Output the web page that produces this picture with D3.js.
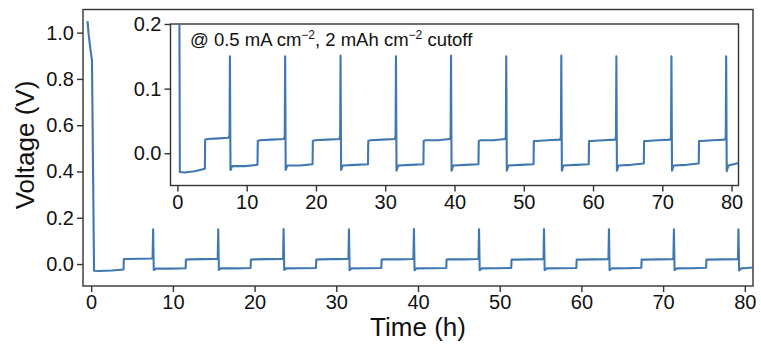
<!DOCTYPE html>
<html lang="en">
<head>
  <meta charset="UTF-8">
  <title>Voltage vs time</title>
  <script src="https://d3js.org/d3.v7.min.js"></script>
  <style>
    body { margin: 0; background: #fff; font-family: Arial, "Liberation Sans", sans-serif; }
    .axis text { font-size: 20px; fill: #111; }
    .axis path, .axis line { stroke: #333; stroke-width: 1.4; }
  </style>
</head>
<body>
<div id="chart"></div>
<script>
  // time (h) and voltage (V)
  const timeH = [
    -0.45, -0.3, -0.1, 0.1, 0.35, 1.0, 2.5, 3.96,
    4.0, 4.3, 6.0, 7.4, 7.52, 7.58, 7.66, 7.9, 9.8, 11.56,
    11.6, 11.9, 13.6, 15.37, 15.49, 15.55, 15.63, 15.87, 17.7, 19.51,
    19.55, 19.85, 21.6, 23.37, 23.49, 23.55, 23.63, 23.87, 25.7, 27.51,
    27.55, 27.85, 29.6, 31.37, 31.49, 31.55, 31.63, 31.87, 33.7, 35.51,
    35.55, 35.85, 37.6, 39.32, 39.44, 39.5, 39.58, 39.82, 41.6, 43.46,
    43.5, 43.8, 45.6, 47.29, 47.41, 47.47, 47.55, 47.79, 49.6, 51.41,
    51.45, 51.75, 53.5, 55.24, 55.36, 55.42, 55.5, 55.74, 57.6, 59.38,
    59.42, 59.72, 61.5, 63.19, 63.31, 63.37, 63.45, 63.69, 65.5, 67.33,
    67.37, 67.67, 69.4, 71.14, 71.26, 71.32, 71.4, 71.64, 73.5, 75.26,
    75.3, 75.6, 77.3, 79.04, 79.16, 79.22, 79.3, 79.54, 80.3, 81.0
  ];
  const voltage = [
    1.05, 0.99, 0.93, 0.88, -0.029, -0.030, -0.028, -0.024,
    0.021, 0.022, 0.023, 0.024, 0.028, 0.150, -0.026, -0.020, -0.020, -0.018,
    0.019, 0.020, 0.021, 0.022, 0.026, 0.150, -0.026, -0.019, -0.019, -0.017,
    0.019, 0.020, 0.021, 0.022, 0.026, 0.151, -0.026, -0.019, -0.018, -0.017,
    0.019, 0.020, 0.021, 0.022, 0.026, 0.150, -0.027, -0.019, -0.018, -0.017,
    0.019, 0.020, 0.020, 0.022, 0.025, 0.151, -0.027, -0.019, -0.018, -0.017,
    0.019, 0.020, 0.020, 0.022, 0.025, 0.150, -0.027, -0.019, -0.018, -0.017,
    0.019, 0.019, 0.020, 0.021, 0.025, 0.151, -0.027, -0.019, -0.018, -0.017,
    0.019, 0.019, 0.020, 0.021, 0.025, 0.150, -0.027, -0.019, -0.018, -0.016,
    0.019, 0.019, 0.020, 0.021, 0.025, 0.150, -0.027, -0.019, -0.018, -0.016,
    0.019, 0.019, 0.020, 0.021, 0.025, 0.150, -0.028, -0.019, -0.017, -0.015
  ];
  const mainXTicks = [0, 10, 20, 30, 40, 50, 60, 70, 80];
  const mainYTicks = [0.0, 0.2, 0.4, 0.6, 0.8, 1.0];
  const insetXTicks = [0, 10, 20, 30, 40, 50, 60, 70, 80];
  const insetYTicks = [0.0, 0.1, 0.2];

  const data = timeH.map((t, i) => ({ t: t, v: voltage[i] }));
  const lineColor = "#3f78b2";

  const svg = d3.select("#chart").append("svg")
    .attr("width", 761)
    .attr("height", 346);

  // main axes
  const x = d3.scaleLinear().domain([-1, 81]).range([83, 753]);
  const y = d3.scaleLinear().domain([-0.095, 1.1]).range([286, 9.5]);

  svg.append("rect")
    .attr("x", 83).attr("y", 9.5)
    .attr("width", 670).attr("height", 276.5)
    .attr("fill", "none").attr("stroke", "#333").attr("stroke-width", 1.4);

  svg.append("g").attr("class", "axis")
    .attr("transform", "translate(0,286)")
    .call(d3.axisBottom(x).tickValues(mainXTicks).tickSize(6).tickPadding(3).tickFormat(d3.format("d")))
    .call(g => g.select(".domain").remove());

  svg.append("g").attr("class", "axis")
    .attr("transform", "translate(83,0)")
    .call(d3.axisLeft(y).tickValues(mainYTicks).tickSize(6).tickPadding(3).tickFormat(d3.format(".1f")))
    .call(g => g.select(".domain").remove());

  const line = d3.line().x(d => x(d.t)).y(d => y(d.v));
  svg.append("path").datum(data)
    .attr("d", line)
    .attr("fill", "none")
    .attr("stroke", lineColor)
    .attr("stroke-width", 2.1)
    .attr("stroke-linejoin", "round");

  svg.append("text")
    .attr("x", 418).attr("y", 336)
    .attr("text-anchor", "middle")
    .attr("font-size", 26).attr("fill", "#111")
    .text("Time (h)");

  svg.append("text")
    .attr("transform", "translate(34,145) rotate(-90)")
    .attr("text-anchor", "middle")
    .attr("font-size", 26).attr("fill", "#111")
    .text("Voltage (V)");

  // inset
  const ix = d3.scaleLinear().domain([-1, 81]).range([170.5, 738.5]);
  const iy = d3.scaleLinear().domain([-0.05, 0.2]).range([185.5, 24]);

  svg.append("rect")
    .attr("x", 170.5).attr("y", 24)
    .attr("width", 568).attr("height", 161.5)
    .attr("fill", "#fff").attr("stroke", "#333").attr("stroke-width", 1.4);

  svg.append("defs").append("clipPath").attr("id", "insetClip")
    .append("rect")
    .attr("x", 170.5).attr("y", 24)
    .attr("width", 568).attr("height", 161.5);

  svg.append("g").attr("class", "axis")
    .attr("transform", "translate(0,185.5)")
    .call(d3.axisBottom(ix).tickValues(insetXTicks).tickSize(6).tickPadding(3).tickFormat(d3.format("d")))
    .call(g => g.select(".domain").remove());

  svg.append("g").attr("class", "axis")
    .attr("transform", "translate(170.5,0)")
    .call(d3.axisLeft(iy).tickValues(insetYTicks).tickSize(6).tickPadding(3).tickFormat(d3.format(".1f")))
    .call(g => g.select(".domain").remove());

  const insetLine = d3.line().x(d => ix(d.t)).y(d => iy(d.v));
  svg.append("path").datum(data)
    .attr("clip-path", "url(#insetClip)")
    .attr("d", insetLine)
    .attr("fill", "none")
    .attr("stroke", lineColor)
    .attr("stroke-width", 2.1)
    .attr("stroke-linejoin", "round");

  const note = svg.append("text")
    .attr("x", 190).attr("y", 46)
    .attr("font-size", 18.5).attr("fill", "#111");
  note.append("tspan").text("@ 0.5 mA cm");
  note.append("tspan").attr("dy", -7).attr("font-size", 12).text("\u22122");
  note.append("tspan").attr("dy", 7).text(", 2 mAh cm");
  note.append("tspan").attr("dy", -7).attr("font-size", 12).text("\u22122");
  note.append("tspan").attr("dy", 7).text(" cutoff");
</script>
</body>
</html>
